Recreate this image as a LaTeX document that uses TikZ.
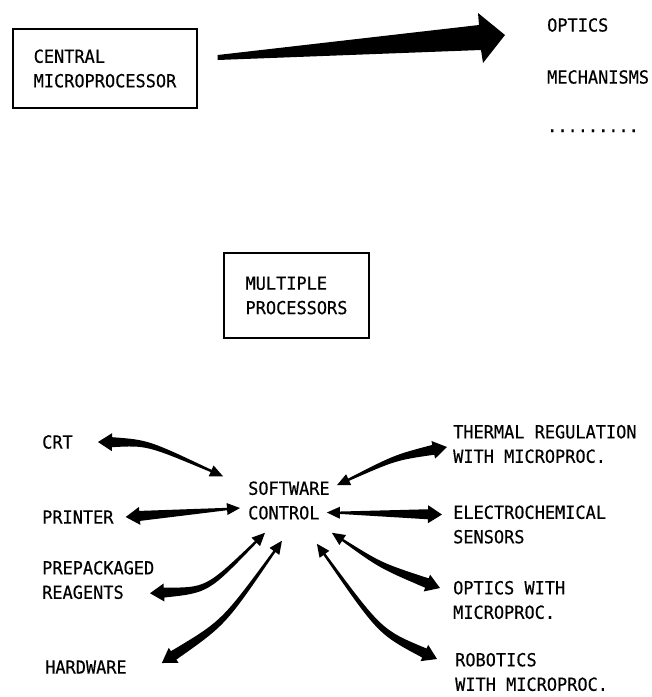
\documentclass[tikz,border=0pt]{standalone}
\usepackage{fontspec}
\newfontfamily\lblfont[FakeStretch=0.94, FakeBold=0.4]{DejaVu Sans Mono}
\usetikzlibrary{calc}

\tikzset{
  lbl/.style={font=\lblfont\fontsize{18}{24.5}\selectfont, inner sep=0pt, anchor=west, align=left},
  procbox/.style={lbl, anchor=center, draw, line width=1.3pt}
}

% tapered two way arrow: #1 thick end tip, #2 thin end tip, #3 where the bend sits, #4 bend depth
\newcommand{\fatlink}[4]{%
  \coordinate (fl-c) at ($(#1)!#3!(#2)!#4pt!90:(#2)$);
  \coordinate (fl-a) at ($(#1)!14pt!(fl-c)$);
  \coordinate (fl-b) at ($(#2)!13pt!(fl-c)$);
  \coordinate (fl-d) at ($(fl-c)+(fl-b)-(fl-a)$);
  \fill (#1) -- ($(fl-a)!9pt!90:(fl-c)$) -- ($(fl-a)!5pt!90:(fl-c)$)
    .. controls ($(fl-c)!2.8pt!90:(fl-d)$) .. ($(fl-b)!1.2pt!-90:(fl-c)$)
    -- ($(fl-b)!6pt!-90:(fl-c)$) -- (#2) -- ($(fl-b)!6pt!90:(fl-c)$)
    -- ($(fl-b)!1.2pt!90:(fl-c)$)
    .. controls ($(fl-c)!2.8pt!-90:(fl-d)$) .. ($(fl-a)!5pt!-90:(fl-c)$)
    -- ($(fl-a)!9pt!-90:(fl-c)$) -- cycle;
}

\begin{document}
\begin{tikzpicture}[x=1pt, y=-1pt]

\useasboundingbox (0,0) rectangle (652,697);

%%%%%%%%%%%%%%% one central processor
\node [procbox, minimum width=184pt, minimum height=79pt] (cpu) at (105,68.5) {CENTRAL\\MICROPROCESSOR};

\node [lbl] (optics) at (547,25) {OPTICS};
\node [lbl] (mech) at (547,77) {MECHANISMS};
\node [lbl, anchor=base west] (more) at (547,132) {.........};

\coordinate (cpu-t) at ([shift={(20,-11)}]cpu.east);
\coordinate (opt-t) at ([shift={(-42,10)}]optics.west);

\fill ($(cpu-t)+(0,-2.5)$) -- ($(opt-t)+(-26,-10)$) -- ($(opt-t)+(-27,-22)$) -- (opt-t)
  -- ($(opt-t)+(-22,28)$) -- ($(opt-t)+(-24,15)$) -- ($(cpu-t)+(0,2.5)$) -- cycle;

%%%%%%%%%%%%%%% several processors
\node [procbox, minimum width=145pt, minimum height=85pt] (multi) at (296.5,295.5) {MULTIPLE\\PROCESSORS};

\node [lbl] (sw) at (248,500.5) {SOFTWARE\\CONTROL};

\node [lbl] (crt) at (42,442) {CRT};
\node [lbl] (printer) at (42,517) {PRINTER};
\node [lbl] (reagents) at (42,580) {PREPACKAGED\\REAGENTS};
\node [lbl] (hardware) at (45,667) {HARDWARE};

\node [lbl] (thermal) at (453,444) {THERMAL REGULATION\\WITH MICROPROC.};
\node [lbl] (electro) at (453,524.5) {ELECTROCHEMICAL\\SENSORS};
\node [lbl] (opticsmp) at (453,600) {OPTICS WITH\\MICROPROC.};
\node [lbl] (robotics) at (455,672) {ROBOTICS\\WITH MICROPROC.};

% arrow ends
\coordinate (crt-a) at ([xshift=25]crt.east);
\coordinate (crt-b) at ([shift={(-25,-5)}]sw.north west);
\coordinate (prn-a) at ([xshift=12]printer.east);
\coordinate (prn-b) at ([shift={(-8,7.5)}]sw.west);
\coordinate (rea-a) at ([shift={(108,-6)}]reagents.south west);
\coordinate (rea-b) at ([shift={(17,13)}]sw.south west);
\coordinate (hw-a) at ([shift={(35,-4)}]hardware.east);
\coordinate (hw-b) at ([shift={(-7,21)}]sw.south);
\coordinate (th-a) at ([shift={(-6,3)}]thermal.west);
\coordinate (th-b) at ([shift={(7,4)}]sw.north east);
\coordinate (el-a) at ([shift={(-11,-10)}]electro.west);
\coordinate (el-b) at ([shift={(-3,12)}]sw.east);
\coordinate (op-a) at ([shift={(-13,-12)}]opticsmp.west);
\coordinate (op-b) at ([shift={(2,13)}]sw.south east);
\coordinate (rb-a) at ([shift={(-18,-13)}]robotics.west);
\coordinate (rb-b) at ([shift={(-13,24)}]sw.south east);

\fatlink{crt-a}{crt-b}{0.37}{12.5}
\fatlink{prn-a}{prn-b}{0.5}{0}
\fatlink{rea-a}{rea-b}{0.4}{-24}
\fatlink{hw-a}{hw-b}{0.42}{-16}
\fatlink{th-a}{th-b}{0.45}{-7}
\fatlink{el-a}{el-b}{0.5}{0}
\fatlink{op-a}{op-b}{0.52}{7}
\fatlink{rb-a}{rb-b}{0.36}{20}

\end{tikzpicture}
\end{document}
